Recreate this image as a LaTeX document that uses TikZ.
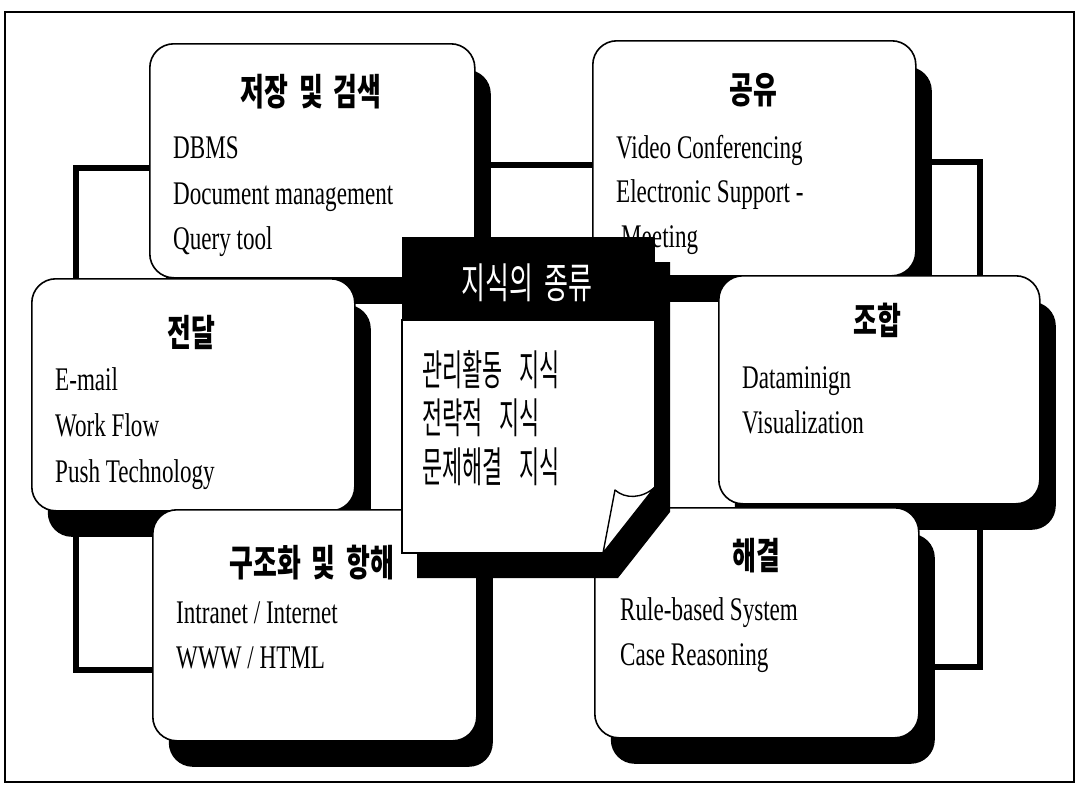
\documentclass[tikz,border=0pt]{standalone}
\usepackage{fontspec}
\setmainfont{Liberation Serif}[FakeStretch=0.70]
\newfontfamily\kbold{Noto Sans CJK KR}[FakeStretch=0.70,WordSpace=1.8]
\newfontfamily\khead{Noto Sans CJK KR}[FakeStretch=0.62,WordSpace=1.9]
\newfontfamily\kbody{Noto Sans CJK KR}[FakeStretch=0.52,WordSpace=3.5]
\usetikzlibrary{shadows,backgrounds}
\begin{document}
\begin{tikzpicture}[x=1pt,y=-1pt,
  panel/.style={draw=black, line width=1.6pt, fill=white, rounded corners=24pt,
    inner sep=0pt, anchor=north west,
    drop shadow={shadow xshift=16pt, shadow yshift=-26pt, fill=black, opacity=1}},
  ttl/.style={font=\kbold\bfseries\fontsize{37}{40}\selectfont, inner sep=0pt, anchor=center},
  itm/.style={font=\fontsize{33}{40}\selectfont, inner sep=0pt, anchor=base west},
  cline/.style={font=\kbody\fontsize{42}{44}\selectfont, inner sep=0pt, anchor=west},
  ring/.style={line width=6pt}]
\useasboundingbox (0,0) rectangle (1077,785);
\draw[line width=2pt] (5,12) rectangle (1074,782);

% left column boxes
\node[panel, minimum width=325pt, minimum height=234pt] (b1) at (149,43) {};
\node[panel, minimum width=323pt, minimum height=232pt] (b3) at (31,278) {};
\node[panel, minimum width=324pt, minimum height=231pt] (b5) at (152,509) {};
% right column boxes
\node[panel, minimum width=323pt, minimum height=235pt] (b2) at (592,40) {};
\node[panel, minimum width=321pt, minimum height=228pt] (b4) at (718,275) {};
\node[panel, minimum width=324pt, minimum height=230pt] (b6) at (594,507) {};

% texts
\node[ttl] (t1) at (311,92) {저장 및 검색};
\node[itm] (i11) at (173,158) {DBMS};
\node[itm] (i12) at (173,204) {Document management};
\node[itm] (i13) at (173,249) {Query tool};

\node[ttl] (t2) at (753,90) {공유};
\node[itm] (i21) at (616,158) {Video Conferencing};
\node[itm] (i22) at (616,202) {Electronic Support -};
\node[itm] (i23) at (621,247) {Meeting};

\node[ttl] (t3) at (191,332) {전달};
\node[itm] (i31) at (55,390) {E-mail};
\node[itm] (i32) at (55,436) {Work Flow};
\node[itm] (i33) at (55,482) {Push Technology};

\node[ttl] (t4) at (877,320) {조합};
\node[itm] (i41) at (742,388) {Dataminign};
\node[itm] (i42) at (742,433) {Visualization};

\node[ttl] (t5) at (312,563) {구조화 및 항해};
\node[itm] (i51) at (176,623) {Intranet / Internet};
\node[itm] (i52) at (176,668) {WWW / HTML};

\node[ttl] (t6) at (756,556) {해결};
\node[itm] (i61) at (620,620) {Rule-based System};
\node[itm] (i62) at (620,665) {Case Reasoning};

% centre card
\fill[black] (417,262) -- (670,262) -- (670,512) -- (618,578) -- (417,578) -- cycle;
\fill[black] (402,237) rectangle (655,320);
\draw[line width=1.6pt, fill=white] (402,320) -- (655,320) -- (655,487) -- (603,553) -- (402,553) -- cycle;
\draw[line width=1.4pt, fill=white, line join=round] (615,490) .. controls (625,499) and (642,499) .. (655,487) -- (603,553) -- cycle;
\node[font=\khead\fontsize{42}{44}\selectfont, text=white, inner sep=0pt] (ctitle) at (527,283) {지식의 종류};
\node[cline] (c1) at (422,370) {관리활동 지식};
\node[cline] (c2) at (422,418) {전략적 지식};
\node[cline] (c3) at (422,467) {문제해결 지식};

\begin{pgfonlayer}{background}
\fill[white] (0,0) rectangle (1077,785);
\coordinate (lt) at (76,168);
\coordinate (lb) at (76,670);
\coordinate (mt) at (530,165);
\coordinate (rt) at (980,162);
\coordinate (rb) at (980,667);
\draw[ring] (b1.west |- lt) -- (lt) -- (lb) -- (b5.west |- lb);
\draw[ring] (b1.east |- mt) -- (b2.west |- mt);
\draw[ring] (b2.east |- rt) -- (rt) -- (rb) -- (b6.east |- rb);
\end{pgfonlayer}
\end{tikzpicture}
\end{document}
